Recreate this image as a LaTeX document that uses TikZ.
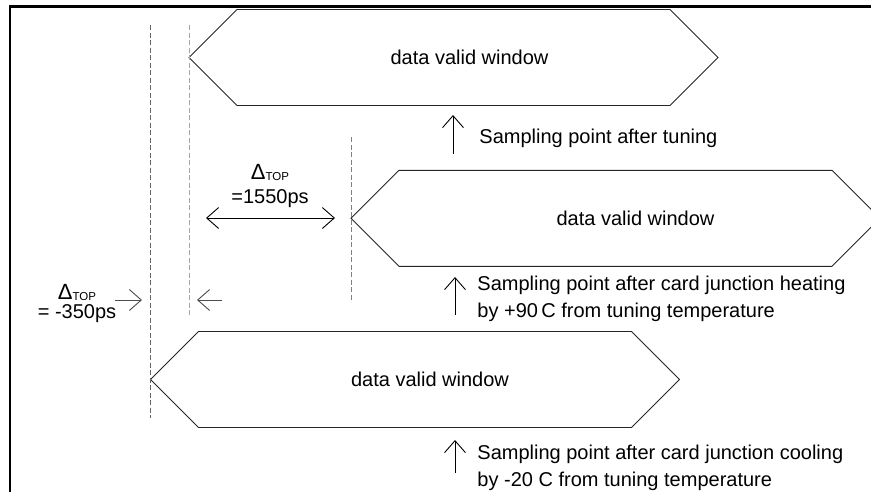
\documentclass[tikz,border=0pt]{standalone}
\usepackage{fontspec}
\setmainfont{Liberation Sans}
\usetikzlibrary{arrows.meta,shapes.symbols}

\tikzset{
  win/.style={draw=black!85,line width=0.9pt,shape=signal,signal to=west and east,
    signal pointer angle=90,minimum width=529pt,minimum height=96pt,inner sep=0pt,outer sep=0pt},
  txt/.style={font=\fontsize{20}{27}\selectfont,inner sep=0pt,align=left},
  vline/.style={dash pattern=on 5pt off 2.5pt,line width=0.8pt},
}
\newcommand{\dtop}{{\fontsize{22}{22}\selectfont Δ}\raisebox{-1.5pt}{\fontsize{11.5}{12}\selectfont TOP}}

\begin{document}
\begin{tikzpicture}[x=1pt,y=-1pt,>={Straight Barb[length=12pt,width=21pt]},line width=0.9pt]
\clip (0,0) rectangle (871,491);
\draw[line width=2.5pt] (10,500)--(10,6.5)--(880,6.5);
\node[win] (win1) at (453.5,57.5) {};
\node[win] (win2) at (615.5,218.3) {};
\node[win] (win3) at (415,379.5) {};
\node[txt] (w1) at ([xshift=16pt]win1.center) {data valid window};
\node[txt] (w2) at ([xshift=20pt]win2.center) {data valid window};
\node[txt] (w3) at ([xshift=15pt]win3.center) {data valid window};
\draw[vline,black!60] (win3.west |- 0,25)--(win3.west |- 0,418);
\draw[vline,black!35] (win1.west |- 0,25)--(win1.west |- 0,315);
\draw[vline,black!50] (win2.west |- 0,137)--(win2.west |- 0,302);
\node[txt,anchor=base west] (pt1) at (479,143) {Sampling point after tuning};
\node[txt,anchor=base west] (pt2) at (477,317) {Sampling point after card junction heating\\by +90\,C from tuning temperature};
\node[txt,anchor=base west] (pt3) at (477,486) {Sampling point after card junction cooling\\by -20 C from tuning temperature};
\coordinate (s1) at (453,154);
\coordinate (s2) at (455,315);
\coordinate (s3) at (455,473);
\draw[->] (s1)--++(0,-39);
\draw[->] (s2)--++(0,-38);
\draw[->] (s3)--++(0,-33);
\node[txt,align=center,font=\fontsize{20}{24}\selectfont,anchor=base] (d1) at (270,203) {\dtop\\=1550ps};
\node[txt,align=center,font=\fontsize{20}{19}\selectfont,anchor=base] (d2) at (77,318) {\dtop\\= -350ps};
\coordinate (a1) at (206,218);
\coordinate (a2) at (335,218);
\draw[<->] (a1)--(a2);
\coordinate (b1) at (115,300);
\coordinate (b2) at (222,300);
\draw[->,black!70] (b1)--++(27,0);
\draw[->,black!70] (b2)--++(-25,0);
\end{tikzpicture}
\end{document}
